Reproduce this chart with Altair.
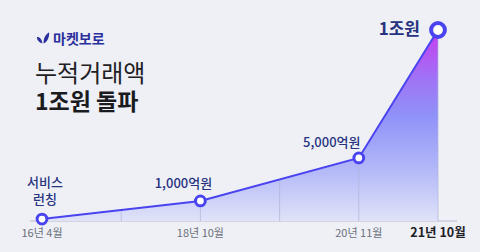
import altair as alt
import pandas as pd
import numpy as np

# ---- data ----
periods = ["16년 4월", "", "18년 10월", "", "20년 11월", "21년 10월"]
point_idx = [0, 2, 4, 5]
point_height = [0.1, 1.05, 3.3, 10.0]   # stylised height of cumulative volume
point_labels = ["서비스\n런칭", "1,000억원", "5,000억원", "1조원"]

FONT = "Noto Sans CJK KR"
BG = "#eef0f6"
LINE = "#4a44f0"
NAVY = "#27337f"

xs = alt.Scale(domain=[0, 5], range=[42, 438])
ys = alt.Scale(domain=[0, 10], range=[221, 30])

pts = pd.DataFrame({"i": point_idx, "h": point_height, "label": point_labels})
grid = pd.DataFrame({"i": list(range(1, 6))})
grid["h"] = np.interp(grid["i"], point_idx, point_height)
grid["z"] = 0.0
axis_df = pd.DataFrame({"i": list(range(len(periods))), "p": periods})
axis_df = axis_df[axis_df["p"] != ""]
axis_reg = axis_df[axis_df["i"] < 5]
axis_last = axis_df[axis_df["i"] == 5]

X = alt.X("i:Q", scale=xs, axis=None)
Y = alt.Y("h:Q", scale=ys, axis=None)

grad = alt.Gradient(
    gradient="linear", x1=0, y1=0, x2=0, y2=1,
    stops=[
        alt.GradientStop(offset=0, color="#c63cf0"),
        alt.GradientStop(offset=0.25, color="#a072f5"),
        alt.GradientStop(offset=0.45, color="#8f92f8"),
        alt.GradientStop(offset=0.75, color="#b6bbf8"),
        alt.GradientStop(offset=1, color="#e0e3f8"),
    ],
)

base = alt.Chart(pts)

baseline = alt.Chart(pd.DataFrame({"a": [-0.15], "b": [5.24], "z": [0]})).mark_rule(
    color="#d3d6e2", strokeWidth=2
).encode(x=alt.X("a:Q", scale=xs, axis=None), x2="b:Q", y=alt.Y("z:Q", scale=ys, axis=None))

area = base.mark_area(color=grad, opacity=1).encode(x=X, y=Y)

grid_rules = alt.Chart(grid).mark_rule(color="#aeb3d8", strokeWidth=1, opacity=0.7).encode(
    x=X, y=Y, y2="z:Q"
)

line = base.mark_line(color=LINE, strokeWidth=2).encode(x=X, y=Y)

small_pts = alt.Chart(pts[pts["i"] < 5]).mark_point(
    filled=True, fill="white", stroke=LINE, strokeWidth=3, size=95, opacity=1
).encode(x=X, y=Y)
big_pt = alt.Chart(pts[pts["i"] == 5]).mark_point(
    filled=True, fill="white", stroke=LINE, strokeWidth=4, size=190, opacity=1
).encode(x=X, y=Y)

lab0 = alt.Chart(pts[pts["i"] == 0]).mark_text(
    font=FONT, fontSize=13, fontWeight=500, color=NAVY, lineBreak="\n",
    lineHeight=17, baseline="alphabetic", dx=3, dy=-32
).encode(x=X, y=Y, text="label:N")
lab1 = alt.Chart(pts[pts["i"] == 2]).mark_text(
    font=FONT, fontSize=13, fontWeight=500, color=NAVY, baseline="alphabetic",
    dx=-17, dy=-13
).encode(x=X, y=Y, text="label:N")
lab2 = alt.Chart(pts[pts["i"] == 4]).mark_text(
    font=FONT, fontSize=13, fontWeight=500, color=NAVY, baseline="alphabetic",
    dx=-27, dy=-11
).encode(x=X, y=Y, text="label:N")
lab3 = alt.Chart(pts[pts["i"] == 5]).mark_text(
    font=FONT, fontSize=17, fontWeight="bold", color=NAVY, baseline="middle",
    align="right", dx=-18, dy=0
).encode(x=X, y=Y, text="label:N")

ax1 = alt.Chart(axis_reg.assign(z=0)).mark_text(
    font=FONT, fontSize=11, color="#6b6f7a", baseline="alphabetic", dy=16
).encode(x=X, y=alt.Y("z:Q", scale=ys, axis=None), text="p:N")
ax2 = alt.Chart(axis_last.assign(z=0)).mark_text(
    font=FONT, fontSize=12.5, fontWeight="bold", color="#1e2026", baseline="alphabetic", dy=16
).encode(x=X, y=alt.Y("z:Q", scale=ys, axis=None), text="p:N")

# ---- heading ----
leaf = alt.Chart(pd.DataFrame({"t": [0]})).mark_point(
    shape="M-1,-0.15 C-0.55,-0.2 -0.15,0.25 -0.1,0.9 C-0.65,0.75 -1,0.35 -1,-0.15 Z "
          "M0.1,0.9 C0.05,0.05 0.4,-0.6 1,-0.95 C1.05,-0.1 0.75,0.55 0.1,0.9 Z",
    filled=True, color="#2b2f9c", size=150, opacity=1
).encode(x=alt.value(43), y=alt.value(38))
brand = alt.Chart(pd.DataFrame({"t": ["마켓보로"]})).mark_text(
    font=FONT, fontSize=14, fontWeight="bold", color="#2b2f9c", align="left", baseline="alphabetic"
).encode(x=alt.value(53), y=alt.value(44), text="t:N")
title1 = alt.Chart(pd.DataFrame({"t": ["누적거래액"]})).mark_text(
    font=FONT, fontSize=24, fontWeight=400, color="#1f2024", align="left", baseline="alphabetic"
).encode(x=alt.value(35), y=alt.value(82), text="t:N")
title2 = alt.Chart(pd.DataFrame({"t": ["1조원 돌파"]})).mark_text(
    font=FONT, fontSize=23, fontWeight="bold", color="#1a1b1f", align="left", baseline="alphabetic"
).encode(x=alt.value(35), y=alt.value(110), text="t:N")

chart = alt.layer(
    baseline, area, grid_rules, line, small_pts, big_pt,
    lab0, lab1, lab2, lab3, ax1, ax2, leaf, brand, title1, title2
).properties(
    width=480, height=252, background=BG, padding=0,
    autosize=alt.AutoSizeParams(type="none")
).configure_view(stroke=None)

chart.save("out.html", embed_options={"renderer": "svg", "actions": False})
